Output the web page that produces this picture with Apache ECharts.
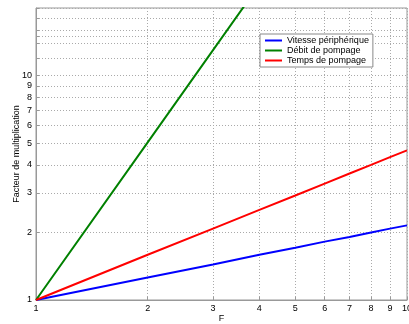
<!DOCTYPE html>
<html><head><meta charset="utf-8">
<script src="https://cdn.jsdelivr.net/npm/echarts@6/dist/echarts.min.js"></script>
<style>html,body{margin:0;padding:0;background:#fff}#c{width:409px;height:324px}</style>
</head><body><div id="c"></div>
<script>
const F = [1, 2, 3, 4, 5, 6, 7, 8, 9, 10];
const vitesse = [1, 1.26, 1.44, 1.59, 1.71, 1.82, 1.91, 2.0, 2.08, 2.15];
const debit = [1, 5.04, 12.98, 25.4, 42.7, 65.4, 93.9, 128, 168, 215];
const temps = [1, 1.59, 2.08, 2.52, 2.92, 3.30, 3.66, 4.0, 4.33, 4.64];
const xTicks = [1, 2, 3, 4, 5, 6, 7, 8, 9, 10];
const yLabels = [1, 2, 3, 4, 5, 6, 7, 8, 9, 10];
const yGrid = [1, 2, 3, 4, 5, 6, 7, 8, 9, 10, 12, 14, 15, 16, 18, 20];
const names = ['Vitesse périphérique', 'Débit de pompage', 'Temps de pompage'];
const colors = ['#0000ff', '#008000', '#ff0000'];

const pair = arr => F.map((x, i) => [x, arr[i]]);
const font = 'Liberation Sans, Arial, sans-serif';
const chart = echarts.init(document.getElementById('c'), null, {renderer: 'canvas'});
chart.setOption({
  animation: false,
  color: colors,
  textStyle: {fontFamily: font},
  grid: {left: 36, right: 2, top: 8, bottom: 24, containLabel: false, outerBoundsMode: 'none',
         show: true, borderColor: '#999', borderWidth: 1},
  legend: {
    orient: 'vertical', left: 260, top: 34,
    icon: 'rect', itemWidth: 17, itemHeight: 2, itemGap: 1,
    backgroundColor: '#fff', borderColor: '#888', borderWidth: 1,
    padding: [2, 4, 2, 5],
    textStyle: {fontSize: 9, color: '#000', fontFamily: font},
    data: names
  },
  xAxis: {
    type: 'log', logBase: 10, min: 1, max: 10,
    name: 'F', nameLocation: 'middle', nameGap: 14, nameMoveOverlap: false,
    nameTextStyle: {fontSize: 9, color: '#000'},
    axisLine: {show: true, lineStyle: {color: '#999'}},
    axisTick: {show: true, inside: true, length: 3, lineStyle: {color: '#999'}, customValues: xTicks},
    axisLabel: {fontSize: 9, color: '#000', margin: 4, customValues: xTicks, formatter: v => String(Math.round(v))},
    splitLine: {show: true, lineStyle: {color: '#aaa', type: [1, 2], width: 1}}
  },
  yAxis: {
    type: 'log', logBase: 10, min: 1, max: 20,
    name: 'Facteur de multiplication', nameLocation: 'middle', nameGap: 15, nameRotate: 90, nameMoveOverlap: false,
    nameTextStyle: {fontSize: 9, color: '#000'},
    axisLine: {show: true, lineStyle: {color: '#999'}},
    axisTick: {show: true, inside: true, length: 3, lineStyle: {color: '#999'}, customValues: yGrid},
    axisLabel: {fontSize: 9, color: '#000', margin: 4, customValues: yLabels, formatter: v => String(Math.round(v))},
    splitLine: {show: true, lineStyle: {color: '#aaa', type: [1, 2], width: 1}}
  },
  series: [
    {name: names[0], type: 'line', data: pair(vitesse), showSymbol: false, symbol: 'none', lineStyle: {width: 2, color: colors[0]}, clip: true},
    {name: names[1], type: 'line', data: pair(debit), showSymbol: false, symbol: 'none', lineStyle: {width: 2, color: colors[1]}, clip: true},
    {name: names[2], type: 'line', data: pair(temps), showSymbol: false, symbol: 'none', lineStyle: {width: 2, color: colors[2]}, clip: true}
  ]
});
</script></body></html>
